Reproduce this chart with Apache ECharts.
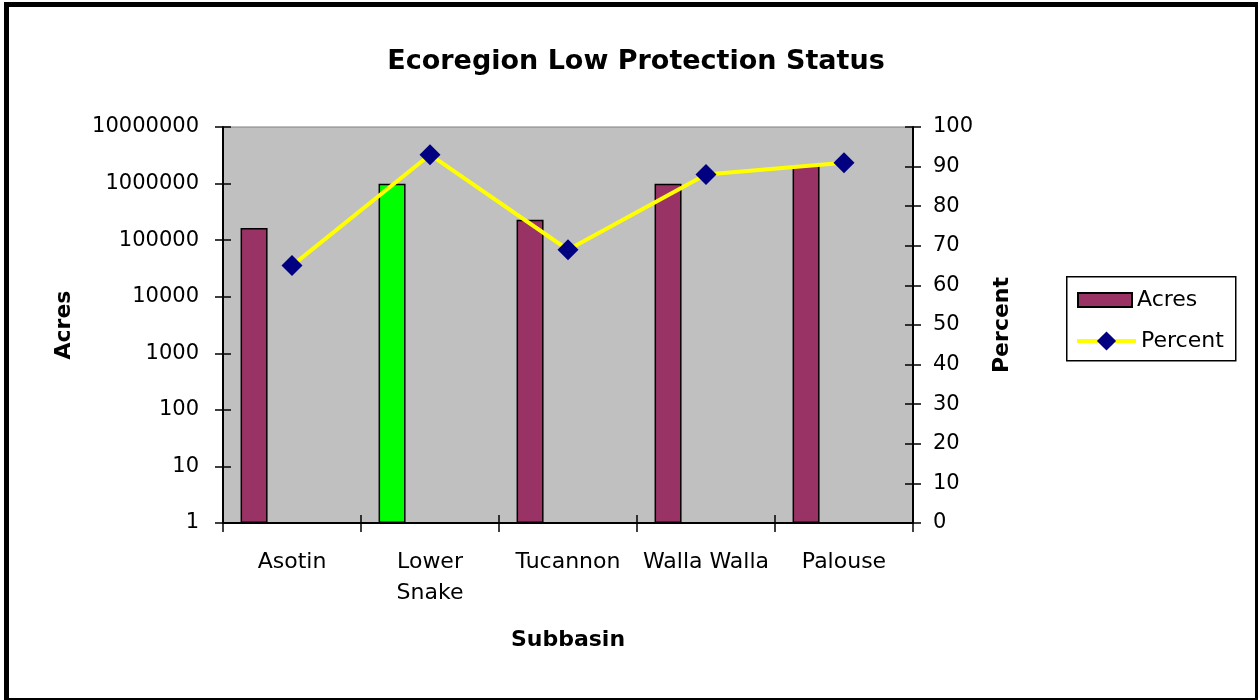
<!DOCTYPE html>
<html>
<head>
<meta charset="utf-8">
<script src="https://cdn.jsdelivr.net/npm/echarts@6/dist/echarts.min.js"></script>
<style>
  html, body { margin: 0; padding: 0; background: #ffffff; }
  #chart { width: 1258px; height: 700px; }
</style>
</head>
<body>
<div id="chart"></div>
<script>
// Subbasins along the category axis (the long name wraps onto two lines)
const categories = ['Asotin', 'Lower\nSnake', 'Tucannon', 'Walla Walla', 'Palouse'];
// Acres of low-protection land (log scale, left axis)
const acres = [164000, 990000, 230000, 990000, 2080000];
// Percent of ecoregion with low protection (right axis)
const percent = [65, 93, 69, 88, 91];
// Subbasin whose bar is highlighted
const highlighted = 'Lower\nSnake';

const FONT = '"DejaVu Sans", "Liberation Sans", Arial, sans-serif';
const BAR_COLOR = '#993366';
const LINE_COLOR = '#FFFF00';
const MARKER_COLOR = '#000080';

const chart = echarts.init(document.getElementById('chart'), null, { renderer: 'canvas' });

const acresData = acres.map((v, i) => (
  categories[i] === highlighted
    ? { value: v, itemStyle: { color: '#00FF00' } }
    : v
));

const tickStyle = { color: '#000', width: 1.5 };
const legendText = { fontFamily: FONT, fontSize: 22, color: '#000', lineHeight: 22 };

// invisible series that bind the inner-tick helper axes so their ticks are drawn
const helperLine = (data, yIdx) => ({
  type: 'line',
  xAxisIndex: 1,
  yAxisIndex: yIdx,
  data: data,
  symbol: 'none',
  lineStyle: { opacity: 0 },
  silent: true,
  z: 0
});

chart.setOption({
  backgroundColor: '#ffffff',
  animation: false,
  title: {
    text: 'Ecoregion Low Protection Status',
    left: 631,
    top: 43,
    textAlign: 'center',
    textStyle: { fontFamily: FONT, fontSize: 27, fontWeight: 'bold', color: '#000' }
  },
  graphic: [{
    // outer chart frame
    type: 'rect',
    left: 4, top: 2,
    shape: { x: 0, y: 0, width: 1251, height: 696 },
    style: { fill: 'none', stroke: '#000', lineWidth: 5 },
    silent: true,
    z: 100
  }, {
    // legend frame
    type: 'rect',
    left: 1066, top: 276,
    shape: { x: 0, y: 0, width: 169, height: 84 },
    style: { fill: '#ffffff', stroke: '#000', lineWidth: 1.5 },
    silent: true,
    z: -1
  }],
  legend: [{
    data: [{ name: 'Acres', icon: 'rect' }],
    left: 1077,
    top: 289,
    padding: 0,
    itemWidth: 54,
    itemHeight: 14,
    itemGap: 0,
    textStyle: legendText
  }, {
    data: [{ name: 'Percent', lineStyle: { width: 4, color: LINE_COLOR } }],
    left: 1075,
    top: 330,
    padding: 0,
    itemWidth: 59,
    itemHeight: 24,
    itemGap: 0,
    textStyle: legendText
  }],
  grid: {
    left: 223, right: 345, top: 127, bottom: 177,
    show: true,
    backgroundColor: '#C0C0C0',
    borderColor: '#808080',
    borderWidth: 1
  },
  xAxis: [{
    type: 'category',
    data: categories,
    position: 'bottom',
    name: 'Subbasin',
    nameLocation: 'middle',
    nameGap: 106,
    nameTextStyle: { fontFamily: FONT, fontSize: 22, fontWeight: 'bold', color: '#000' },
    axisLine: { lineStyle: { color: '#000', width: 2 } },
    axisTick: { show: true, inside: false, length: 9, lineStyle: tickStyle },
    axisLabel: {
      interval: 0,
      margin: 24,
      fontFamily: FONT, fontSize: 22, color: '#000',
      lineHeight: 31
    },
    splitLine: { show: false }
  }, {
    // inner half of the crossing category ticks
    type: 'category',
    data: categories,
    position: 'bottom',
    axisLine: { show: false },
    axisTick: { show: true, inside: true, length: 8, lineStyle: tickStyle },
    axisLabel: { show: false },
    splitLine: { show: false }
  }],
  yAxis: [{
    type: 'log',
    logBase: 10,
    min: 1,
    max: 10000000,
    splitNumber: 7,
    position: 'left',
    name: 'Acres',
    nameLocation: 'middle',
    nameRotate: 90,
    nameGap: 148,
    nameTextStyle: { fontFamily: FONT, fontSize: 22, fontWeight: 'bold', color: '#000' },
    axisLine: { show: true, lineStyle: { color: '#000', width: 2 } },
    axisTick: { show: true, inside: false, length: 8, lineStyle: tickStyle },
    axisLabel: {
      margin: 24,
      fontFamily: FONT, fontSize: 21, color: '#000',
      formatter: v => String(Math.round(v))
    },
    splitLine: { show: false }
  }, {
    type: 'value',
    min: 0,
    max: 100,
    interval: 10,
    position: 'right',
    name: 'Percent',
    nameLocation: 'middle',
    nameRotate: 90,
    nameGap: 78,
    nameTextStyle: { fontFamily: FONT, fontSize: 22, fontWeight: 'bold', color: '#000' },
    axisLine: { show: true, lineStyle: { color: '#000', width: 2 } },
    axisTick: { show: true, inside: false, length: 8, lineStyle: tickStyle },
    axisLabel: { margin: 20, fontFamily: FONT, fontSize: 21, color: '#000' },
    splitLine: { show: false }
  }, {
    // inner half of the crossing ticks on the left axis
    type: 'log',
    logBase: 10,
    min: 1,
    max: 10000000,
    splitNumber: 7,
    position: 'left',
    axisLine: { show: false },
    axisTick: { show: true, inside: true, length: 8, lineStyle: tickStyle },
    axisLabel: { show: false },
    splitLine: { show: false }
  }, {
    // inner half of the crossing ticks on the right axis
    type: 'value',
    min: 0,
    max: 100,
    interval: 10,
    position: 'right',
    axisLine: { show: false },
    axisTick: { show: true, inside: true, length: 8, lineStyle: tickStyle },
    axisLabel: { show: false },
    splitLine: { show: false }
  }],
  series: [{
    name: 'Acres',
    type: 'bar',
    xAxisIndex: 0,
    yAxisIndex: 0,
    data: acresData,
    barWidth: 27,
    barGap: '181%',
    itemStyle: { color: BAR_COLOR, borderColor: '#000', borderWidth: 1.5 },
    z: 2
  }, {
    // empty companion series that keeps the Acres bars to the left of each category
    name: 'spacer',
    type: 'bar',
    xAxisIndex: 0,
    yAxisIndex: 0,
    data: categories.map(() => '-'),
    barWidth: 27,
    barGap: '181%',
    silent: true
  }, {
    name: 'Percent',
    type: 'line',
    xAxisIndex: 0,
    yAxisIndex: 1,
    data: percent,
    symbol: 'diamond',
    symbolSize: 21,
    itemStyle: { color: MARKER_COLOR },
    lineStyle: { color: LINE_COLOR, width: 4 },
    z: 5
  },
  helperLine(acres, 2),
  helperLine(percent, 3)
  ]
});
</script>
</body>
</html>
